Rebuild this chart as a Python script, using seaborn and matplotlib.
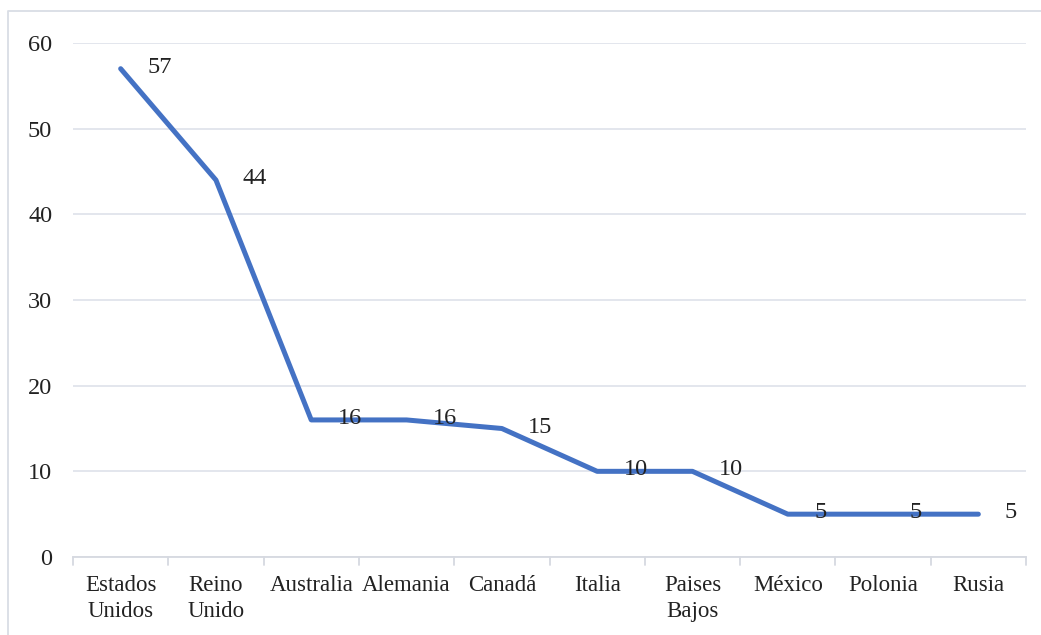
import matplotlib
matplotlib.use("Agg")
import matplotlib.pyplot as plt
import seaborn as sns
import pandas as pd
from matplotlib.lines import Line2D

countries = ["Estados\nUnidos", "Reino\nUnido", "Australia", "Alemania", "Canadá",
             "Italia", "Paises\nBajos", "México", "Polonia", "Rusia"]
values = [57, 44, 16, 16, 15, 10, 10, 5, 5, 5]
yticks = [0, 10, 20, 30, 40, 50, 60]

sns.set_theme(style="white")
plt.rcParams["font.family"] = ["Liberation Serif", "DejaVu Serif"]

df = pd.DataFrame({"pais": countries, "valor": values, "pos": range(len(values))})

fig = plt.figure(figsize=(10.41, 6.35), dpi=100)
ax = fig.add_axes([73 / 1041, 1 - 557 / 635, (1026 - 73) / 1041, (557 - 43) / 635])

sns.lineplot(data=df, x="pos", y="valor", ax=ax, color="#4472C4", linewidth=3.6,
             solid_joinstyle="round", solid_capstyle="round", sort=False)

for i, v in enumerate(values):
    ax.annotate(str(v), (i, v), xytext=(19, 1), textcoords="offset points",
                ha="left", va="center", fontsize=17.5, color="#222222")

ax.set_xlim(-0.5, len(values) - 0.5)
ax.set_ylim(0, 60)
ax.set_yticks(yticks)
ax.set_yticklabels([str(t) for t in yticks], fontsize=17.5, color="#222222")
ax.set_xticks(range(len(values)))
ax.set_xticklabels(countries, fontsize=16.5, color="#222222", linespacing=1.3)
ax.tick_params(axis="x", length=0, pad=13)
ax.tick_params(axis="y", length=0, pad=15)
ax.set_xlabel("")
ax.set_ylabel("")
ax.grid(axis="y", color="#E1E4EC", linewidth=1.3)
ax.grid(axis="x", visible=False)
for s in ["top", "right", "left"]:
    ax.spines[s].set_visible(False)
ax.spines["bottom"].set_color("#D6D9E0")
ax.spines["bottom"].set_linewidth(1.3)

# category boundary tick marks
for b in [x - 0.5 for x in range(len(values) + 1)]:
    ax.plot([b, b], [0, -0.95], color="#D6D9E0", linewidth=1.3, clip_on=False)

# chart frame (top and left edges visible)
fig.lines.append(Line2D([8 / 1041, 8 / 1041, 1.0], [0.0, 1 - 11 / 635, 1 - 11 / 635],
                        transform=fig.transFigure, color="#D9DDE5", linewidth=1.3))

fig.savefig("out.png", dpi=100, facecolor="white")
